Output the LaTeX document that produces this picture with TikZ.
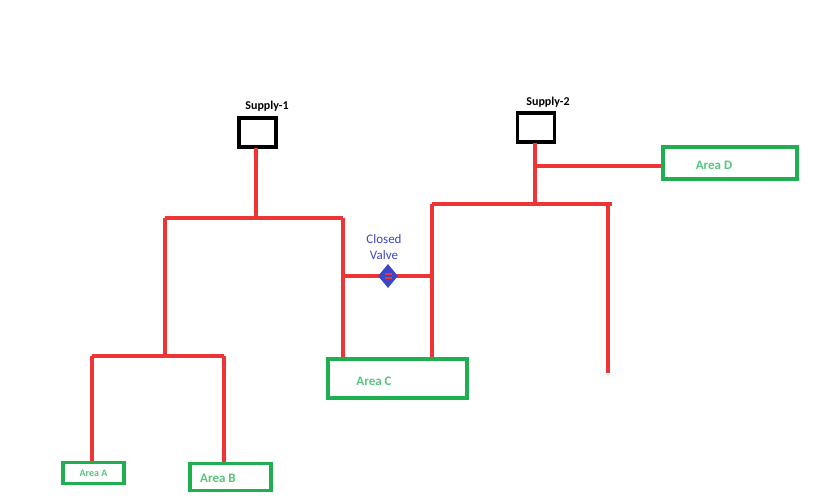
\documentclass[tikz,border=0pt]{standalone}
\usepackage{fontspec}
\setmainfont{Carlito}
\usetikzlibrary{shapes.geometric}
\definecolor{rl}{RGB}{238,52,52}
\definecolor{gr}{RGB}{30,176,80}
\definecolor{vb}{RGB}{60,70,200}
\begin{document}
\begin{tikzpicture}[x=1pt,y=-1pt,
  red/.style={draw=rl,line width=4pt},
  sup/.style={draw=black,line width=3.5pt,minimum width=37pt,minimum height=29pt,inner sep=0},
  area/.style={draw=gr,line width=3.5pt,inner sep=0,text=gr!75,font=\bfseries}]
\useasboundingbox (0,0) rectangle (823,500);
\node[sup] (s1) at (257.5,132.5) {};
\node[font=\bfseries\fontsize{12}{14}\selectfont] (l1) at (267,106) {Supply-1};
\node[sup] (s2) at (536,127.5) {};
\node[font=\bfseries\fontsize{12}{14}\selectfont] (l2) at (548,102) {Supply-2};
\node[area,minimum width=134pt,minimum height=32pt] (ad) at (730,163) {};
\node[text=gr!75,font=\bfseries\fontsize{13}{15}\selectfont] (tad) at (714,165) {Area D};
\node[area,minimum width=139pt,minimum height=39pt] (ac) at (397.5,378.5) {};
\node[text=gr!75,font=\bfseries\fontsize{13}{15}\selectfont] (tac) at (374,381) {Area C};
\node[area,minimum width=61pt,minimum height=21pt,font=\bfseries\fontsize{10}{12}\selectfont] (aa) at (93.5,473) {Area A};
\node[area,minimum width=81pt,minimum height=27pt] (ab) at (230.5,477) {};
\node[text=gr!75,font=\bfseries\fontsize{13}{15}\selectfont] (tab) at (218,478) {Area B};
\coordinate (j1) at (256,218); \coordinate (j1l) at (165,218); \coordinate (j1r) at (343,218);
\coordinate (j2) at (165,356); \coordinate (j2l) at (92,356); \coordinate (j2r) at (224,356);
\coordinate (v1) at (343,276); \coordinate (v2) at (433,276);
\coordinate (r1) at (432,204); \coordinate (r2) at (535,204); \coordinate (r3) at (612,204);
\coordinate (dj) at (535,166); \coordinate (rt) at (608,204); \coordinate (rend) at (608,373);
\draw[red] (256,148) -- (j1);
\draw[red] (j1l) -- (j1r);
\draw[red] (j1l) -- (j2);
\draw[red] (j1r) -- (j1r |- ac.north);
\draw[red] (j2l) -- (j2r);
\draw[red] (j2l) -- (j2l |- aa.north);
\draw[red] (j2r) -- (j2r |- ab.north);
\draw[red] (v1) -- (v2);
\draw[red] (r1) -- (r1 |- ac.north);
\draw[red] (r1) -- (r3);
\draw[red] (535,143) -- (r2);
\draw[red] (dj) -- (dj -| ad.west);
\draw[red] (rt) -- (rend);
\node[diamond,fill=vb,minimum width=20pt,minimum height=24pt,inner sep=0] (valve) at (388,276) {};
\draw[rl,line width=1.2pt] (384.5,274) -- (391.5,274) (384.5,278) -- (391.5,278);
\node[text=vb,align=center,font=\fontsize{13}{16}\selectfont,text width=50pt] (vl) at (384,247) {Closed\\Valve};
\end{tikzpicture}
\end{document}
